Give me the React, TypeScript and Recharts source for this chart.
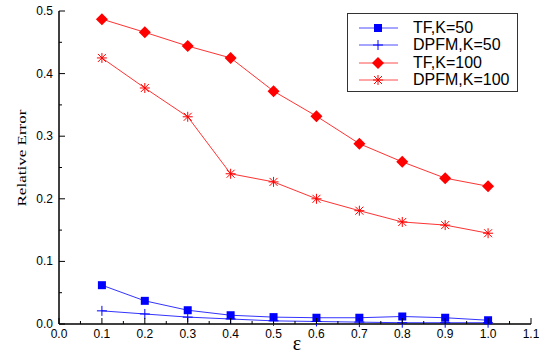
import React from 'react';
import { LineChart, Line, XAxis, YAxis, Legend } from 'recharts';

const epsilons = [0.1, 0.2, 0.3, 0.4, 0.5, 0.6, 0.7, 0.8, 0.9, 1.0];
const tfK50 = [0.062, 0.037, 0.022, 0.014, 0.011, 0.01, 0.01, 0.012, 0.01, 0.006];
const dpfmK50 = [0.021, 0.016, 0.011, 0.008, 0.005, 0.004, 0.003, 0.002, 0.002, 0.002];
const tfK100 = [0.487, 0.466, 0.444, 0.425, 0.372, 0.332, 0.288, 0.259, 0.233, 0.22];
const dpfmK100 = [0.425, 0.377, 0.331, 0.24, 0.227, 0.2, 0.181, 0.163, 0.158, 0.145];

const xTicks = [0, 0.05, 0.1, 0.15, 0.2, 0.25, 0.3, 0.35, 0.4, 0.45, 0.5, 0.55, 0.6, 0.65, 0.7, 0.75, 0.8, 0.85, 0.9, 0.95, 1.0, 1.05, 1.1];
const yTicks = [0, 0.05, 0.1, 0.15, 0.2, 0.25, 0.3, 0.35, 0.4, 0.45, 0.5];

const data = epsilons.map((e, i) => ({
  eps: e,
  tfK50: tfK50[i],
  dpfmK50: dpfmK50[i],
  tfK100: tfK100[i],
  dpfmK100: dpfmK100[i],
}));

const BLUE = '#0000ff';
const RED = '#ff0000';
const FONT = '"Liberation Sans", Arial, sans-serif';

const isMajor = (v: number) => Math.abs(v * 10 - Math.round(v * 10)) < 1e-6;

function Marker({ kind, cx, cy, color }: { kind: string; cx: number; cy: number; color: string }) {
  if (kind === 'square') {
    return <rect x={cx - 4} y={cy - 4} width={8} height={8} fill={color} />;
  }
  if (kind === 'plus') {
    return (
      <g stroke={color} strokeWidth={1}>
        <line x1={cx - 5} x2={cx + 5} y1={cy} y2={cy} />
        <line x1={cx} x2={cx} y1={cy - 5} y2={cy + 5} />
      </g>
    );
  }
  if (kind === 'diamond') {
    return <polygon points={`${cx},${cy - 6} ${cx + 6},${cy} ${cx},${cy + 6} ${cx - 6},${cy}`} fill={color} />;
  }
  return (
    <g stroke={color} strokeWidth={1}>
      <line x1={cx - 5} x2={cx + 5} y1={cy} y2={cy} />
      <line x1={cx} x2={cx} y1={cy - 5} y2={cy + 5} />
      <line x1={cx - 4} x2={cx + 4} y1={cy - 4} y2={cy + 4} />
      <line x1={cx - 4} x2={cx + 4} y1={cy + 4} y2={cy - 4} />
    </g>
  );
}

const series = [
  { key: 'tfK50', name: 'TF,K=50', color: BLUE, marker: 'square' },
  { key: 'dpfmK50', name: 'DPFM,K=50', color: BLUE, marker: 'plus' },
  { key: 'tfK100', name: 'TF,K=100', color: RED, marker: 'diamond' },
  { key: 'dpfmK100', name: 'DPFM,K=100', color: RED, marker: 'star' },
];

const makeDot = (kind: string, color: string) => (p: any) => (
  <Marker key={p.index} kind={kind} cx={p.cx} cy={p.cy} color={color} />
);

const LeftTick = (p: any) => {
  const v = p.payload.value;
  const ax = p.x;
  return (
    <g>
      <line x1={ax} x2={ax + (isMajor(v) ? 6 : 3)} y1={p.y} y2={p.y} stroke="#000" />
      {isMajor(v) && (
        <text x={ax - 6} y={p.y + 4} textAnchor="end" fontSize={12} fontFamily={FONT} fill="#000">
          {v.toFixed(1)}
        </text>
      )}
    </g>
  );
};

const RightTick = (p: any) => {
  const v = p.payload.value;
  return <line x1={p.x} x2={p.x - (isMajor(v) ? 6 : 3)} y1={p.y} y2={p.y} stroke="#000" />;
};

const BottomTick = (p: any) => {
  const v = p.payload.value;
  return (
    <g>
      <line x1={p.x} x2={p.x} y1={p.y} y2={p.y - (isMajor(v) ? 6 : 3)} stroke="#000" />
      {isMajor(v) && (
        <text x={p.x} y={p.y + 14} textAnchor="middle" fontSize={12} fontFamily={FONT} fill="#000">
          {v.toFixed(1)}
        </text>
      )}
    </g>
  );
};

const TopTick = (p: any) => {
  const v = p.payload.value;
  return <line x1={p.x} x2={p.x} y1={p.y} y2={p.y + (isMajor(v) ? 6 : 3)} stroke="#000" />;
};

const LegendBox = () => (
  <div
    style={{
      width: 171,
      height: 79,
      border: '1px solid #333',
      background: '#fff',
      boxSizing: 'border-box',
      paddingTop: 5,
      fontFamily: FONT,
      fontSize: 16,
    }}
  >
    {series.map((s) => (
      <div key={s.key} style={{ display: 'flex', alignItems: 'center', height: 17.5 }}>
        <svg width={52} height={14} style={{ marginLeft: 9, marginRight: 4 }}>
          <line x1={2} x2={41} y1={7} y2={7} stroke={s.color} strokeOpacity={0.7} />
          <Marker kind={s.marker} cx={21} cy={7} color={s.color} />
        </svg>
        <span style={{ lineHeight: '16px' }}>{s.name}</span>
      </div>
    ))}
  </div>
);

export default function App() {
  return (
    <div style={{ position: 'absolute', left: 0, top: 0 }}>
      <LineChart width={539} height={356} data={data} margin={{ top: 11, right: 8, bottom: 0, left: 0 }}>
        <XAxis
          dataKey="eps"
          type="number"
          domain={[0, 1.1]}
          ticks={xTicks}
          interval={0}
          height={32}
          tickSize={0}
          tickMargin={0}
          tickLine={false}
          axisLine={{ stroke: '#000', strokeWidth: 1.5 }}
          tick={BottomTick}
          label={{
            content: () => (
              <text x={297} y={350} textAnchor="middle" fontSize={20} fontFamily='"Liberation Serif", serif' fill="#000">
                ε
              </text>
            ),
          }}
        />
        <XAxis
          xAxisId="top"
          orientation="top"
          type="number"
          domain={[0, 1.1]}
          ticks={xTicks}
          interval={0}
          height={0}
          tickSize={0}
          tickMargin={0}
          tickLine={false}
          axisLine={{ stroke: '#000', strokeWidth: 1.5 }}
          tick={TopTick}
        />
        <YAxis
          type="number"
          domain={[0, 0.5]}
          ticks={yTicks}
          interval={0}
          width={59}
          tickSize={0}
          tickMargin={0}
          tickLine={false}
          axisLine={{ stroke: '#000', strokeWidth: 1.5 }}
          tick={LeftTick}
          label={{
            content: () => (
              <text
                x={26}
                y={158}
                transform="rotate(-90 26 158)"
                textAnchor="middle"
                fontSize={13}
                textLength={97}
                lengthAdjust="spacingAndGlyphs"
                fontFamily='"Liberation Serif", serif'
                fill="#000"
              >
                Relative Error
              </text>
            ),
          }}
        />
        <YAxis
          yAxisId="right"
          orientation="right"
          type="number"
          domain={[0, 0.5]}
          ticks={yTicks}
          interval={0}
          width={0}
          tickSize={0}
          tickMargin={0}
          tickLine={false}
          axisLine={{ stroke: '#000', strokeWidth: 1.5 }}
          tick={RightTick}
        />
        <Legend
          layout="horizontal"
          align="center"
          verticalAlign="middle"
          wrapperStyle={{ top: 13, left: 347, width: 171 }}
          content={LegendBox}
        />
        {series.map((s) => (
          <Line
            key={s.key}
            dataKey={s.key}
            name={s.name}
            stroke={s.color}
            strokeOpacity={0.8}
            strokeWidth={1}
            dot={makeDot(s.marker, s.color)}
            isAnimationActive={false}
          />
        ))}
      </LineChart>
    </div>
  );
}
